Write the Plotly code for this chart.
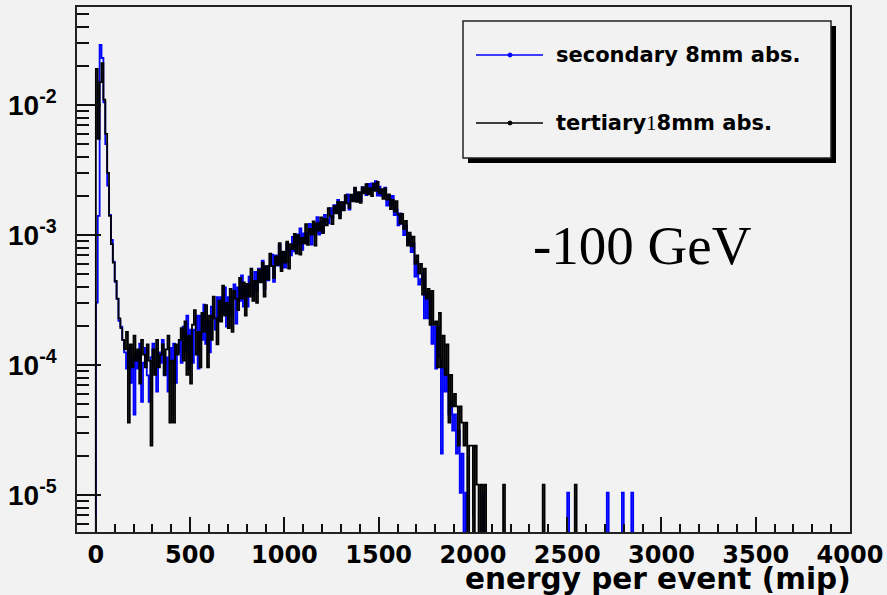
import plotly.graph_objects as go

# ---------------- data: entries per 10-mip bin ----------------
BIN_WIDTH = 10
N_BINS = 300            # 0 .. 3000 mip
W_SEC = 1.04e-5         # weight of one entry, secondary
W_TER = 1.20e-5         # weight of one entry, tertiary

sec_counts = [
    29, 135, 2788, 2212, 1010, 481, 231, 137, 88, 60, 42, 31, 21,
    19, 15, 12, 9, 13, 7, 11, 4, 12, 9, 14, 5, 10, 13, 8, 5, 11, 14, 9, 6,
    12, 10, 15, 8, 11, 6, 13, 10, 14, 7, 12, 15,
    10, 19, 12, 23, 9, 18, 10, 18, 23, 9, 23, 15, 28, 14, 21, 12, 27, 22, 18, 32,
    21, 32, 24, 38, 19, 32, 23, 32, 40, 20, 38, 30, 47, 27, 39, 27, 46, 39, 33, 50,
    36, 53, 43, 61, 37, 55, 43, 56, 68, 42, 67, 56, 81, 54, 71, 54, 83, 74, 67, 93,
    72, 97, 82, 108, 74, 99, 83, 100, 117, 81, 115, 100, 132, 97, 121, 100, 137, 126, 118, 155,
    130, 163, 146, 179, 136, 171, 150, 173, 197, 151, 196, 177, 220, 175, 203, 175, 224, 207, 195, 238,
    203, 240, 214, 250, 193, 226,
    192, 210, 222, 162, 194, 165, 192, 137, 151, 114, 141, 117, 96, 114, 81, 95, 71, 83, 46, 60,
    40, 44, 48, 22, 35, 22, 34, 14, 19, 9, 19, 11, 2, 9, 6, 8, 4, 5,
    3, 4, 2, 3, 1, 2, 0, 1, 0, 0, 0, 0, 0, 0, 0, 0, 1, 0,
]
ter_counts = [
    1583, 458, 1250, 1750, 917, 500, 250, 117, 71, 51, 37, 27, 19,
    16, 13, 11, 15, 3, 12, 8, 14, 9, 11, 6, 13, 10, 8, 12, 9, 2, 11, 7, 13,
    8, 10, 12, 7, 11, 14, 3, 9, 3, 12, 10, 13,
    16, 9, 18, 7, 14, 6, 17, 22, 10, 15, 8, 21, 15, 24, 8, 20, 13, 28, 19, 12,
    26, 18, 34, 20, 25, 16, 32, 15, 31, 27, 22, 39, 27, 36, 20, 35, 28, 46, 26, 37,
    25, 45, 36, 51, 28, 48, 38, 60, 48, 39, 57, 49, 72, 44, 62, 51, 74, 46, 71, 65,
    85, 60, 83, 59, 79, 72, 101, 70, 93, 84, 106, 69, 103, 90, 114, 86, 111, 99, 134, 117,
    101, 139, 122, 150, 112, 149, 129, 169, 146, 135, 170, 151, 193, 150, 178, 147, 194, 174, 205, 171,
    191, 166, 207, 182, 213, 174,
    188, 158, 190, 156, 171, 132, 155, 126, 152, 120, 102, 121, 93, 107, 69, 87, 68, 81, 50, 58,
    42, 50, 29, 46, 27, 32, 17, 31, 17, 18, 8, 21, 8, 14, 7, 12, 3, 7,
    4, 5, 4, 2, 4, 3, 2, 3, 0, 2, 2, 0, 2, 1, 0, 1, 0, 1,
]
sec_tail_x = [2505, 2715, 2795, 2845]      # isolated single entries
ter_tail_x = [2165, 2375, 2545]

series_names = ["secondary 8mm abs.", "tertiary18mm abs."]
series_colors = ["#0000ff", "#000000"]

x_ticks = [0, 500, 1000, 1500, 2000, 2500, 3000, 3500, 4000]
y_decades = [-5, -4, -3, -2]

# ---------------- geometry helpers ----------------
W, H = 887, 595
ML, MR, MT, MB = 77, 37, 7, 63
PW, PH = W - ML - MR, H - MT - MB
FLOOR = 1e-9   # empty bins: drawn below the visible range (baseline)


def px(x):
    return (x - ML) / PW


def py(y):
    return (H - MB - y) / PH


def step_outline(counts, tail_x, w):
    full = list(counts) + [0] * (N_BINS - len(counts))
    for x in tail_x:
        full[int(x // BIN_WIDTH)] += 1
    xs, ys = [0], [FLOOR]
    for i, n in enumerate(full):
        v = n * w if n > 0 else FLOOR
        xs += [i * BIN_WIDTH, (i + 1) * BIN_WIDTH]
        ys += [v, v]
    xs.append(N_BINS * BIN_WIDTH)
    ys.append(FLOOR)
    return xs, ys


fig = go.Figure()
for counts, tail, w, col in [(sec_counts, sec_tail_x, W_SEC, series_colors[0]),
                             (ter_counts, ter_tail_x, W_TER, series_colors[1])]:
    xs, ys = step_outline(counts, tail, w)
    fig.add_trace(go.Scatter(x=xs, y=ys, mode="lines",
                             line=dict(color=col, width=1.8),
                             showlegend=False, hoverinfo="skip"))

BOLD = "DejaVu Sans"
ARIAL = "Liberation Sans"
minor_y = [k * 10 ** d for d in range(-6, -1) for k in range(2, 10)]

fig.update_layout(
    width=W, height=H, autosize=False,
    margin=dict(l=ML, r=MR, t=MT, b=MB, pad=0),
    paper_bgcolor="#f2f2f2", plot_bgcolor="#f2f2f2",
    xaxis=dict(
        range=[-100, 4000], tickmode="array", tickvals=x_ticks,
        ticktext=[str(t) for t in x_ticks], automargin=False,
        ticks="inside", ticklen=15, tickwidth=1.5, tickcolor="#111",
        minor=dict(ticks="inside", dtick=100, tick0=0, ticklen=8,
                   tickwidth=1.5, tickcolor="#111"),
        showgrid=False, zeroline=False, showline=True, linecolor="#222",
        linewidth=1.5, mirror=True,
        tickfont=dict(family=BOLD, size=24, color="black", weight="bold"),
    ),
    yaxis=dict(
        type="log", range=[-5.285, -1.246], tickmode="array",
        tickvals=[10 ** d for d in y_decades], automargin=False,
        ticktext=["10<sup>%d</sup>" % d for d in y_decades],
        ticks="inside", ticklen=24, tickwidth=1.5, tickcolor="#111",
        minor=dict(ticks="inside", tickmode="array", tickvals=minor_y,
                   ticklen=12, tickwidth=1.5, tickcolor="#111"),
        showgrid=False, zeroline=False, showline=True, linecolor="#222",
        linewidth=1.5, mirror=True, ticklabelstandoff=13,
        tickfont=dict(family=ARIAL, size=28, color="black", weight="bold"),
    ),
)

# ---------------- legend box (ROOT style) ----------------
shapes = [
    dict(type="rect", xref="paper", yref="paper",
         x0=px(468), x1=px(836), y0=py(163), y1=py(26),
         fillcolor="black", line=dict(width=0), layer="above"),
    dict(type="rect", xref="paper", yref="paper",
         x0=px(463), x1=px(831), y0=py(158), y1=py(21),
         fillcolor="#f2f2f2", line=dict(color="#222", width=1.5), layer="above"),
]
annotations = []
for name, col, yy in [(series_names[0], series_colors[0], 55),
                      (series_names[1], series_colors[1], 123)]:
    shapes.append(dict(type="line", xref="paper", yref="paper",
                       x0=px(476), x1=px(543), y0=py(yy), y1=py(yy),
                       line=dict(color=col, width=1.5), layer="above"))
    shapes.append(dict(type="circle", xref="paper", yref="paper",
                       x0=px(508), x1=px(512), y0=py(yy + 2), y1=py(yy - 2),
                       fillcolor=col, line=dict(color=col, width=1), layer="above"))
    label = name
    if name.startswith("tertiary"):
        label = ('tertiary<span style="font-family:Liberation Serif;font-weight:normal">1</span>'
                 '8mm abs.')
    annotations.append(dict(xref="paper", yref="paper", x=px(554), y=py(yy),
                            xanchor="left", yanchor="middle", showarrow=False,
                            text=label,
                            font=dict(family=BOLD, size=21, color="black", weight="bold")))

annotations.append(dict(xref="paper", yref="paper", x=px(642), y=py(245),
                        xanchor="center", yanchor="middle", showarrow=False,
                        text="-100 GeV",
                        font=dict(family="Liberation Serif", size=55, color="black")))
annotations.append(dict(xref="paper", yref="paper", x=px(853), y=py(579),
                        xanchor="right", yanchor="middle", showarrow=False,
                        text="energy per event (mip)",
                        font=dict(family=BOLD, size=29.5, color="black", weight="bold")))

fig.update_layout(shapes=shapes, annotations=annotations)
fig.write_html("out.html")
